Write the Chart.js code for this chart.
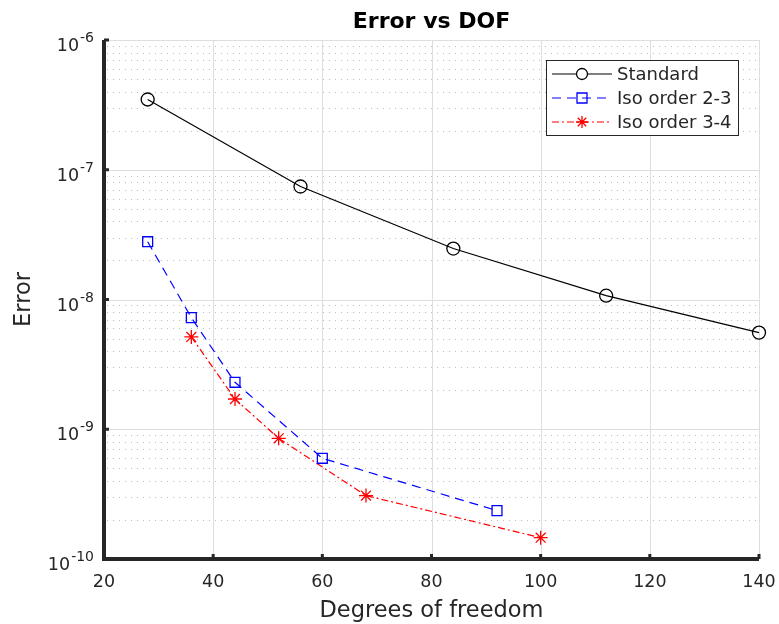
<!DOCTYPE html>
<html>
<head>
<meta charset="utf-8">
<script src="https://cdn.jsdelivr.net/npm/chart.js@4/dist/chart.umd.min.js"></script>
<style>
  html, body { margin: 0; padding: 0; background: #fff; }
</style>
</head>
<body>
<canvas id="errChart" width="779" height="624"></canvas>
<script>
// values
const standardDof = [28, 56, 84, 112, 140];
const standardErr = [3.48e-7, 7.43e-8, 2.47e-8, 1.07e-8, 5.56e-9];
const iso23Dof = [28, 36, 44, 60, 92];
const iso23Err = [2.79e-8, 7.25e-9, 2.30e-9, 5.97e-10, 2.36e-10];
const iso34Dof = [36, 44, 52, 68, 100];
const iso34Err = [5.15e-9, 1.71e-9, 8.51e-10, 3.08e-10, 1.46e-10];
const xTicks = [20, 40, 60, 80, 100, 120, 140];
const yExps = [-10, -9, -8, -7, -6];
const seriesNames = ["Standard", "Iso order 2-3", "Iso order 3-4"];

const toPoints = (xs, ys) => xs.map((x, i) => ({ x: x, y: ys[i] }));

const FONT = "'DejaVu Sans', sans-serif";
const TXT = "#262626";

// grid in MATLAB style: solid majors, dotted minors on the log axis
const gridPlugin = {
    id: "matlabGrid",
    beforeDatasetsDraw(chart) {
        const ctx = chart.ctx;
        const a = chart.chartArea;
        const xs = chart.scales.x, ys = chart.scales.y;
        ctx.save();
        ctx.lineWidth = 1;
        // minor dotted lines
        ctx.strokeStyle = "#bdbdbd";
        ctx.setLineDash([1, 5]);
        for (let e = yExps[0]; e < yExps[yExps.length - 1]; e++) {
            for (let m = 2; m <= 9; m++) {
                const y = Math.round(ys.getPixelForValue(m * Math.pow(10, e))) + 0.5;
                ctx.beginPath();
                ctx.moveTo(a.left + 3, y);
                ctx.lineTo(a.right, y);
                ctx.stroke();
            }
        }
        ctx.setLineDash([]);
        ctx.strokeStyle = "#dedede";
        yExps.forEach(e => {
            const y = Math.round(ys.getPixelForValue(Math.pow(10, e))) + 0.5;
            ctx.beginPath();
            ctx.moveTo(a.left, y);
            ctx.lineTo(a.right, y);
            ctx.stroke();
        });
        xTicks.forEach(v => {
            const x = Math.round(xs.getPixelForValue(v)) + 0.5;
            ctx.beginPath();
            ctx.moveTo(x, a.top);
            ctx.lineTo(x, a.bottom);
            ctx.stroke();
        });
        ctx.restore();
    },
    afterDraw(chart) {
        const ctx = chart.ctx;
        const a = chart.chartArea;
        const xs = chart.scales.x, ys = chart.scales.y;
        ctx.save();

        // axis lines
        ctx.strokeStyle = TXT;
        ctx.lineWidth = 4;
        ctx.beginPath();
        ctx.moveTo(a.left, a.top);
        ctx.lineTo(a.left, a.bottom);
        ctx.lineTo(a.right, a.bottom);
        ctx.stroke();

        // inward tick marks
        ctx.lineWidth = 3;
        yExps.forEach(e => {
            const y = ys.getPixelForValue(Math.pow(10, e));
            ctx.beginPath();
            ctx.moveTo(a.left, y);
            ctx.lineTo(a.left + 5, y);
            ctx.stroke();
        });
        xTicks.forEach(v => {
            const x = xs.getPixelForValue(v);
            ctx.beginPath();
            ctx.moveTo(x, a.bottom);
            ctx.lineTo(x, a.bottom - 5);
            ctx.stroke();
        });

        // tick labels
        ctx.fillStyle = TXT;
        ctx.font = "17.5px " + FONT;
        ctx.textAlign = "center";
        ctx.textBaseline = "alphabetic";
        xTicks.forEach(v => {
            ctx.fillText(String(v), xs.getPixelForValue(v), a.bottom + 28);
        });
        yExps.forEach(e => {
            const y = ys.getPixelForValue(Math.pow(10, e));
            ctx.font = "14px " + FONT;
            const expTxt = String(e);
            const ew = ctx.measureText(expTxt).width;
            ctx.textAlign = "left";
            const right = a.left - 10;
            ctx.fillText(expTxt, right - ew, y + 2);
            ctx.font = "17.5px " + FONT;
            const bw = ctx.measureText("10").width;
            ctx.fillText("10", right - ew - bw - 1, y + 11);
        });

        // axis titles
        ctx.font = "22.5px " + FONT;
        ctx.textAlign = "center";
        ctx.fillText("Degrees of freedom", (a.left + a.right) / 2, 617);
        ctx.save();
        ctx.translate(30, (a.top + a.bottom) / 2);
        ctx.rotate(-Math.PI / 2);
        ctx.fillText("Error", 0, 0);
        ctx.restore();

        // title
        ctx.fillStyle = "#000";
        ctx.font = "bold 22px " + FONT;
        ctx.fillText("Error vs DOF", (a.left + a.right) / 2, 28);

        // legend
        const lx = 546, ly = 60, lw = 192, lh = 75;
        ctx.fillStyle = "#fff";
        ctx.fillRect(lx, ly, lw, lh);
        ctx.strokeStyle = TXT;
        ctx.lineWidth = 1;
        ctx.strokeRect(lx + 0.5, ly + 0.5, lw, lh);
        const rows = [74, 98, 122];
        chart.data.datasets.forEach((ds, i) => {
            const y = rows[i];
            ctx.strokeStyle = ds.borderColor;
            ctx.lineWidth = ds.borderWidth;
            ctx.setLineDash(ds.borderDash || []);
            ctx.beginPath();
            ctx.moveTo(lx + 6, y);
            ctx.lineTo(lx + 66, y);
            ctx.stroke();
            ctx.setLineDash([]);
            const cx = lx + 36;
            ctx.lineWidth = 1.3;
            ctx.beginPath();
            if (ds.pointStyle === "circle") {
                ctx.fillStyle = "#fff";
                ctx.arc(cx, y, 5.5, 0, Math.PI * 2);
                ctx.fill();
            } else if (ds.pointStyle === "rect") {
                ctx.rect(cx - 5, y - 5, 10, 10);
            } else {
                for (let k = 0; k < 4; k++) {
                    const ang = k * Math.PI / 4;
                    ctx.moveTo(cx - 6 * Math.cos(ang), y - 6 * Math.sin(ang));
                    ctx.lineTo(cx + 6 * Math.cos(ang), y + 6 * Math.sin(ang));
                }
            }
            ctx.stroke();
            ctx.fillStyle = TXT;
            ctx.font = "18px " + FONT;
            ctx.textAlign = "left";
            ctx.textBaseline = "middle";
            ctx.fillText(seriesNames[i], lx + 71, y + 1);
        });

        ctx.restore();
    }
};

const ctx = document.getElementById("errChart").getContext("2d");
const errChart = new Chart(ctx, {
    type: "line",
    data: {
        datasets: [{
            label: seriesNames[0],
            data: toPoints(standardDof, standardErr),
            borderColor: "#000000",
            borderWidth: 1.2,
            pointStyle: "circle",
            pointRadius: 6.5,
            pointBorderWidth: 1.3,
            pointBorderColor: "#000000",
            pointBackgroundColor: "rgba(0,0,0,0)",
            clip: false
        }, {
            label: seriesNames[1],
            data: toPoints(iso23Dof, iso23Err),
            borderColor: "#0000ff",
            borderWidth: 1.2,
            borderDash: [9, 6],
            pointStyle: "rect",
            pointRadius: 7,
            pointBorderWidth: 1.3,
            pointBorderColor: "#0000ff",
            pointBackgroundColor: "rgba(0,0,0,0)",
            clip: false
        }, {
            label: seriesNames[2],
            data: toPoints(iso34Dof, iso34Err),
            borderColor: "#ff0000",
            borderWidth: 1.2,
            borderDash: [7, 3, 2, 3],
            pointStyle: "star",
            pointRadius: 7,
            pointBorderWidth: 1.3,
            pointBorderColor: "#ff0000",
            pointBackgroundColor: "rgba(0,0,0,0)",
            clip: false
        }]
    },
    options: {
        responsive: false,
        devicePixelRatio: 1,
        animation: false,
        layout: { padding: { left: 104, right: 20, top: 40, bottom: 65 } },
        plugins: {
            legend: { display: false },
            tooltip: { enabled: false }
        },
        scales: {
            x: {
                type: "linear",
                min: 20,
                max: 140,
                grid: { display: false },
                border: { display: false },
                ticks: { display: false },
                afterFit: s => { s.height = 0; }
            },
            y: {
                type: "logarithmic",
                min: 1e-10,
                max: 1e-6,
                grid: { display: false },
                border: { display: false },
                ticks: { display: false },
                afterFit: s => { s.width = 0; }
            }
        }
    },
    plugins: [gridPlugin]
});
</script>
</body>
</html>
